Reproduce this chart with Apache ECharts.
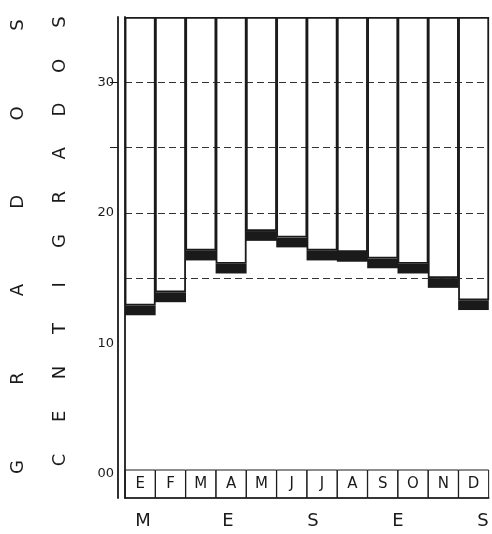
<!DOCTYPE html>
<html>
<head>
<meta charset="utf-8">
<script src="https://cdn.jsdelivr.net/npm/echarts@6/dist/echarts.min.js"></script>
<style>
  html, body { margin: 0; padding: 0; background: #fff; }
  #chart { width: 492px; height: 534px; }
</style>
</head>
<body>
<div id="chart"></div>
<script>
// meses y temperaturas medias (grados centígrados)
const months = ['E', 'F', 'M', 'A', 'M', 'J', 'J', 'A', 'S', 'O', 'N', 'D'];
const temps = [12.9, 13.9, 17.1, 16.1, 18.6, 18.1, 17.1, 17.0, 16.5, 16.1, 15.0, 13.3];
const yLabelValues = [0, 10, 20, 30];
const yTickValues = [25, 30];
const gridLevels = [15, 20, 25, 30];

const yTop = 35;
const yBottom = -1.85;
const band = 0.75;
const ink = '#1a1a1a';
const font = 'DejaVu Sans';

const chart = echarts.init(document.getElementById('chart'));

// letras de los titulos
const graphics = [];
function letter(ch, x, y, rot) {
  graphics.push({
    type: 'text', x: x, y: y, rotation: rot,
    style: { text: ch, font: '18px "' + font + '"', fill: ink,
      textAlign: 'center', textVerticalAlign: 'middle', align: 'center', verticalAlign: 'middle' }
  });
}
'GRADOS'.split('').forEach((ch, i) => letter(ch, 18, 467 - i * 88.4, Math.PI / 2));
'CENTIGRADOS'.split('').forEach((ch, i) => letter(ch, 60, 460 - i * 43.8, Math.PI / 2));
'MESES'.split('').forEach((ch, i) => letter(ch, 143 + i * 85, 521, 0));

const barBase = { type: 'bar', stack: 't', barWidth: 31, silent: true };

const option = {
  animation: false,
  backgroundColor: '#fff',
  grid: { left: 125, right: 0, top: 17, bottom: 36 },
  xAxis: {
    type: 'category',
    data: months,
    z: 10,
    axisLine: { onZero: false, lineStyle: { color: ink, width: 1.5 } },
    axisTick: { show: false },
    axisLabel: {
      inside: true,
      interval: 0,
      margin: 0,
      color: ink,
      fontFamily: font,
      fontSize: 15,
      width: 26,
      height: 22,
      lineHeight: 22,
      align: 'center',
      padding: [3, 2],
      borderColor: ink,
      borderWidth: 1
    },
    splitLine: { show: false }
  },
  yAxis: [
    {
      type: 'value', min: yBottom, max: yTop, position: 'left', z: 10,
      axisLine: { show: true, lineStyle: { color: ink, width: 1.8 } },
      axisTick: { show: false },
      axisLabel: { show: false },
      splitLine: { show: false }
    },
    {
      type: 'value', min: yBottom, max: yTop, position: 'left', offset: 7, z: 10,
      axisLine: { show: true, lineStyle: { color: ink, width: 1.8 } },
      axisTick: { show: true, customValues: yTickValues, length: 8, lineStyle: { color: ink } },
      axisLabel: {
        customValues: yLabelValues,
        color: ink, fontFamily: font, fontSize: 13, margin: 4,
        formatter: v => (v === 0 ? '00' : String(v))
      },
      splitLine: { show: false }
    }
  ],
  graphic: graphics,
  series: [
    {
      type: 'line', data: [], z: 1, silent: true,
      markLine: {
        silent: true, symbol: 'none', label: { show: false },
        lineStyle: { color: '#333', type: [7, 4], width: 1.2 },
        data: gridLevels.map(v => ({ yAxis: v }))
      }
    },
    Object.assign({}, barBase, {
      z: 3,
      data: temps.map(t => t - band),
      itemStyle: { color: '#fff' }
    }),
    Object.assign({}, barBase, {
      z: 4,
      data: temps.map(() => band),
      itemStyle: { color: ink }
    }),
    Object.assign({}, barBase, {
      z: 5,
      data: temps.map(t => yTop - t),
      itemStyle: { color: 'rgba(0,0,0,0)', borderColor: ink, borderWidth: 1.8 }
    })
  ]
};

chart.setOption(option);
</script>
</body>
</html>
